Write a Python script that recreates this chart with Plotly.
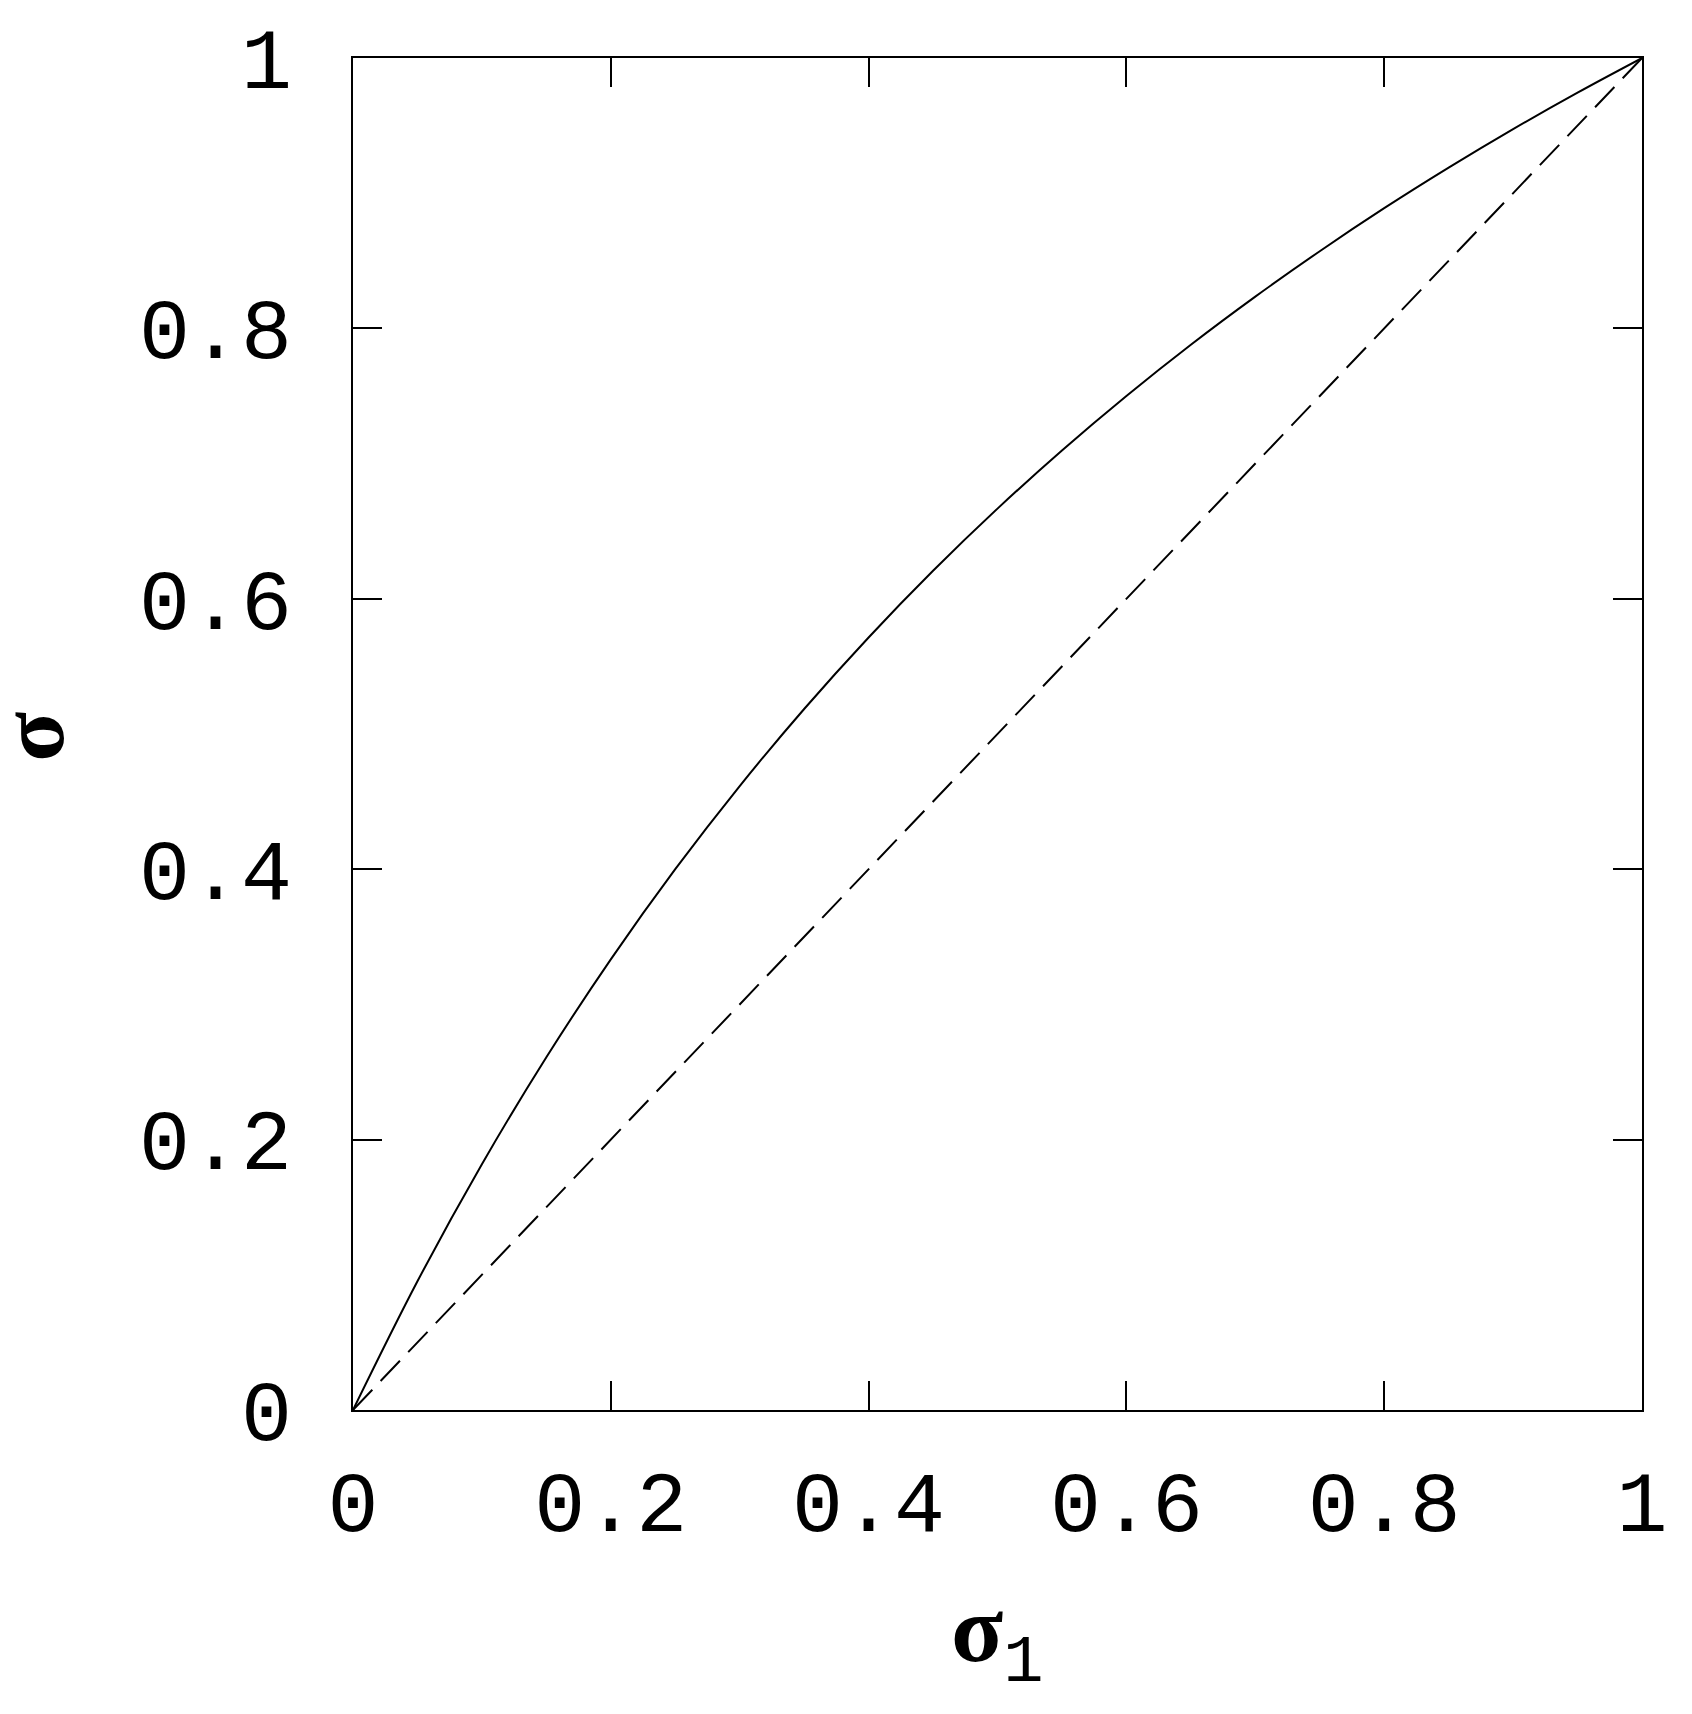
import plotly.graph_objects as go

# ==========================================
# DATA
# ==========================================

sigma1 = [0, 0.05, 0.1, 0.15, 0.2, 0.25, 0.3, 0.35, 0.4, 0.45, 0.5,
          0.55, 0.6, 0.65, 0.7, 0.75, 0.8, 0.85, 0.9, 0.95, 1]
sigma = [0, 0.0952, 0.1818, 0.2609, 0.3333, 0.4000, 0.4615, 0.5185, 0.5714, 0.6207, 0.6667,
         0.7097, 0.7500, 0.7879, 0.8235, 0.8571, 0.8889, 0.9189, 0.9474, 0.9744, 1.0]

diag_x = [0, 1]
diag_y = [0, 1]

tick_vals = [0, 0.2, 0.4, 0.6, 0.8, 1]
tick_text = ["0", "0.2", "0.4", "0.6", "0.8", "1"]

# ==========================================
# FIGURE
# ==========================================

fig = go.Figure()

fig.add_trace(go.Scatter(
    x=sigma1, y=sigma,
    mode="lines",
    line=dict(color="black", width=2, shape="spline", smoothing=1.0),
    showlegend=False
))

fig.add_trace(go.Scatter(
    x=diag_x, y=diag_y,
    mode="lines",
    line=dict(color="black", width=2, dash="28px,12px"),
    showlegend=False
))

axis_style = dict(
    range=[0, 1],
    tickvals=tick_vals,
    ticktext=tick_text,
    ticks="inside",
    ticklen=29,
    tickwidth=2,
    tickcolor="black",
    showline=True,
    linecolor="black",
    linewidth=2,
    mirror="ticks",
    showgrid=False,
    zeroline=False,
    tickfont=dict(family="Liberation Mono", size=85, color="black"),
)

fig.update_xaxes(**axis_style, ticklabelstandoff=17)
fig.update_yaxes(**axis_style, ticklabelstandoff=42)

# axis titles as annotations (bold serif sigma, mono subscript)
fig.add_annotation(
    text="<b>σ</b><sub><span style='font-family:Liberation Mono'>1</span></sub>",
    xref="paper", yref="paper",
    x=0.5, y=-0.169,
    xanchor="center", yanchor="middle",
    showarrow=False,
    font=dict(family="Liberation Serif", size=96, color="black")
)

fig.add_annotation(
    text="<b>σ</b>",
    xref="paper", yref="paper",
    x=-0.249, y=0.498,
    xanchor="center", yanchor="middle",
    textangle=-90,
    showarrow=False,
    font=dict(family="Liberation Serif", size=92, color="black")
)

fig.update_layout(
    width=1692,
    height=1714,
    margin=dict(l=353, r=50, t=58, b=304),
    paper_bgcolor="white",
    plot_bgcolor="white",
)

fig.write_html(
    "out.html",
    config={"displayModeBar": False},
    post_script="document.body.style.margin='0px';"
)
